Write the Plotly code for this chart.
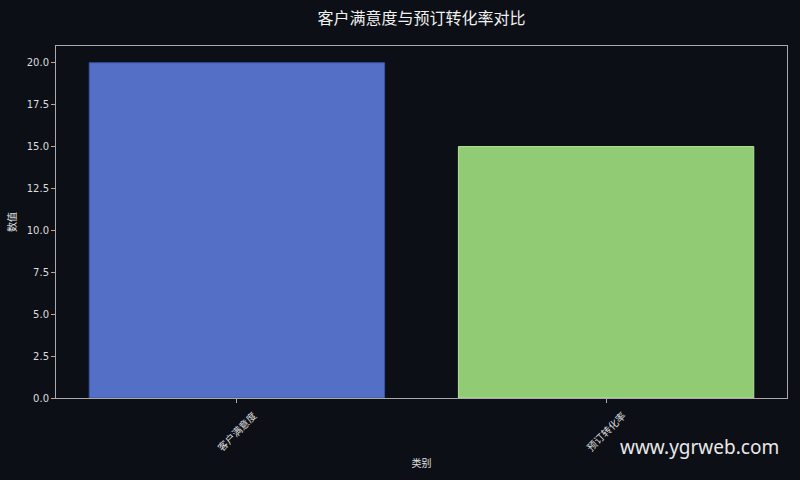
import plotly.graph_objects as go

categories = ["客户满意度", "预订转化率"]
values = [20, 15]
bar_colors = ["#5470c6", "#91cc75"]
edge_colors = ["#3a55a8", "#b5e39c"]

BG = "#0c0f16"
FONT = "Noto Sans CJK SC, DejaVu Sans, sans-serif"

fig = go.Figure()
fig.add_trace(go.Bar(
    x=categories,
    y=values,
    width=0.8,
    marker=dict(color=bar_colors, line=dict(color=edge_colors, width=1)),
))

fig.update_layout(
    width=800,
    height=480,
    paper_bgcolor=BG,
    plot_bgcolor=BG,
    margin=dict(l=56, r=13, t=46, b=82),
    showlegend=False,
    font=dict(family=FONT, color="#e0e0e0", size=10),
    title=dict(
        text="客户满意度与预订转化率对比",
        xref="paper", x=0.5, xanchor="center",
        y=0.962, yanchor="middle",
        font=dict(size=16, color="#f0f0f0"),
    ),
)
fig.update_xaxes(
    range=[-0.49, 1.49],
    tickangle=-45,
    ticklabelshift=17,
    ticklabelstandoff=3,
    ticks="outside", ticklen=4, tickcolor="#aaaaaa",
    showgrid=False, zeroline=False,
    showline=True, linecolor="#aaaaaa", linewidth=1, mirror=True,
    title=dict(text="类别", font=dict(size=10), standoff=6),
    tickfont=dict(size=10, color="#dddddd"),
)
fig.update_yaxes(
    range=[0, 21],
    dtick=2.5, tickformat=".1f",
    ticks="outside", ticklen=4, tickcolor="#aaaaaa",
    showgrid=False, zeroline=False,
    showline=True, linecolor="#aaaaaa", linewidth=1, mirror=True,
    title=dict(text="数值", font=dict(size=10), standoff=8),
    tickfont=dict(size=10, color="#dddddd", family="DejaVu Sans, sans-serif"),
)

# 水印
fig.add_annotation(
    text="www.ygrweb.com",
    xref="paper", yref="paper",
    x=0.992, y=-0.14, xanchor="right", yanchor="middle",
    showarrow=False,
    font=dict(family="Noto Sans, sans-serif", size=19, color="#e8e8e8"),
)

fig.write_html(
    "out.html",
    config={"displayModeBar": False},
    post_script="document.body.style.margin='0';document.body.style.background='#0c0f16';",
)
